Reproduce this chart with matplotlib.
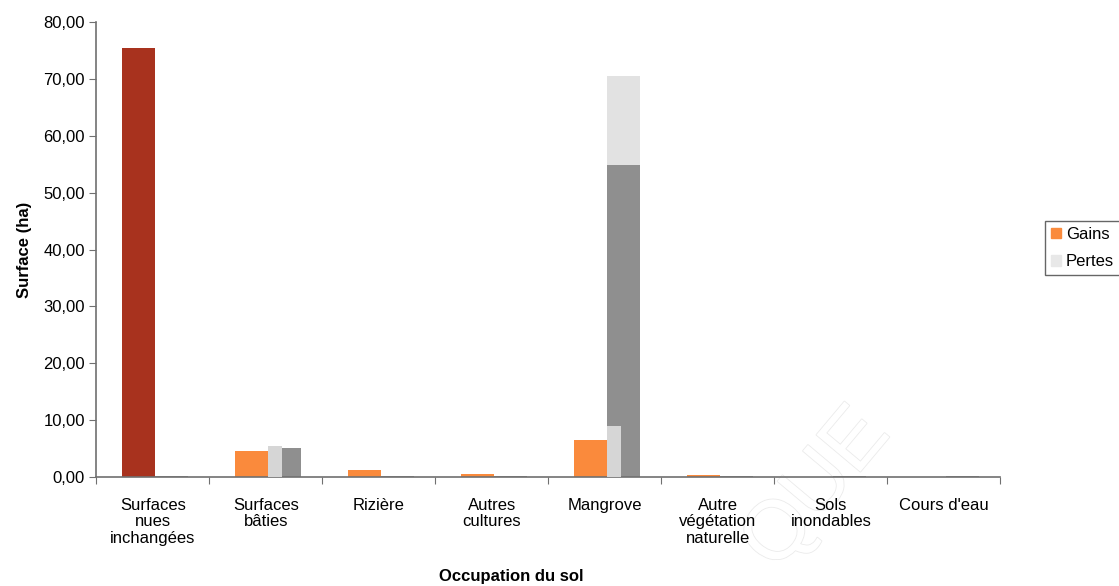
import numpy as np
import matplotlib
matplotlib.use("Agg")
import matplotlib.pyplot as plt
import matplotlib.patheffects as pe
from matplotlib.patches import Patch
from matplotlib.ticker import FuncFormatter

plt.rcParams['font.family'] = ['Liberation Sans', 'DejaVu Sans']

categories = ["Surfaces\nnues\ninchangées", "Surfaces\nbâties", "Rizière",
              "Autres\ncultures", "Mangrove", "Autre\nvégétation\nnaturelle",
              "Sols\ninondables", "Cours d'eau"]
inchange = [75.5, 0, 0, 0, 0, 0, 0, 0]
gains = [0, 4.55, 1.3, 0.5, 6.5, 0.4, 0, 0]
pertes = [0, 5.5, 0, 0, 9.0, 0, 0, 0]
pertes_base = [0.15, 5.05, 0.1, 0.1, 54.9, 0.15, 0.1, 0.1]
pertes_haut = [0, 0, 0, 0, 15.7, 0, 0, 0]

c_rouge = '#a8321e'
c_orange = '#fa8a3c'
c_clair = '#d6d6d6'
c_fonce = '#8f8f8f'
c_haut = '#e2e2e2'
c_axe = '#707070'

fig = plt.figure(figsize=(11.19, 5.86), dpi=100)
ax = fig.add_axes([0.086, 0.186, 0.808, 0.776])
ax.patch.set_alpha(0)

x = np.arange(len(categories))
w = 0.29
ax.bar(x - 0.27, inchange, w, align='edge', color=c_rouge, zorder=2)
ax.bar(x - 0.27, gains, w, align='edge', color=c_orange, zorder=2)
ax.bar(x + 0.02, pertes_base, w, align='edge', color=c_fonce, zorder=2)
ax.bar(x + 0.02, pertes_haut, w, bottom=pertes_base, align='edge', color=c_haut, zorder=2)
ax.bar(x + 0.02, pertes, 0.12, align='edge', color=c_clair, zorder=3)

ax.set_xlim(-0.5, len(categories) - 0.5)
ax.set_ylim(0, 80)
ax.set_yticks(np.arange(0, 81, 10))
ax.yaxis.set_major_formatter(FuncFormatter(lambda v, p: f"{v:.2f}".replace('.', ',')))
ax.set_xticks(np.arange(-0.5, len(categories), 1))
ax.set_xticklabels([])
ax.set_xticks(x, minor=True)
ax.set_xticklabels(categories, minor=True, fontsize=12, linespacing=1.12, va='top')
ax.tick_params(axis='x', which='minor', length=0, pad=15)
ax.tick_params(axis='x', which='major', length=5, color=c_axe, direction='out')
ax.tick_params(axis='y', length=5, color=c_axe, labelsize=12, pad=3)

for s in ['top', 'right']:
    ax.spines[s].set_visible(False)
for s in ['left', 'bottom']:
    ax.spines[s].set_color(c_axe)
    ax.spines[s].set_linewidth(1.2)

ax.set_ylabel("Surface (ha)", fontsize=12, fontweight='bold', labelpad=8)
fig.text(0.457, 0.004, "Occupation du sol", fontsize=12, fontweight='bold', ha='center', va='bottom')

# faint watermark letters behind the chart
fig.text(0.73, 0.165, "QUE", fontsize=60, rotation=50, ha='center', va='center',
         color='white', path_effects=[pe.withStroke(linewidth=1.2, foreground='#ebebeb')], zorder=-1)

handles = [Patch(color=c_orange), Patch(color='#e8e8e8')]
leg = fig.legend(handles, ["Gains", "Pertes"], loc='upper left',
                 bbox_to_anchor=(1045 / 1119, 1 - 221 / 586), fontsize=12,
                 frameon=True, fancybox=False, handlelength=0.6, handleheight=0.6,
                 handletextpad=0.3, borderpad=0.35, labelspacing=0.75, borderaxespad=0)
leg.get_frame().set_edgecolor('#404040')
leg.get_frame().set_linewidth(1.0)

fig.savefig("out.png", dpi=100)
